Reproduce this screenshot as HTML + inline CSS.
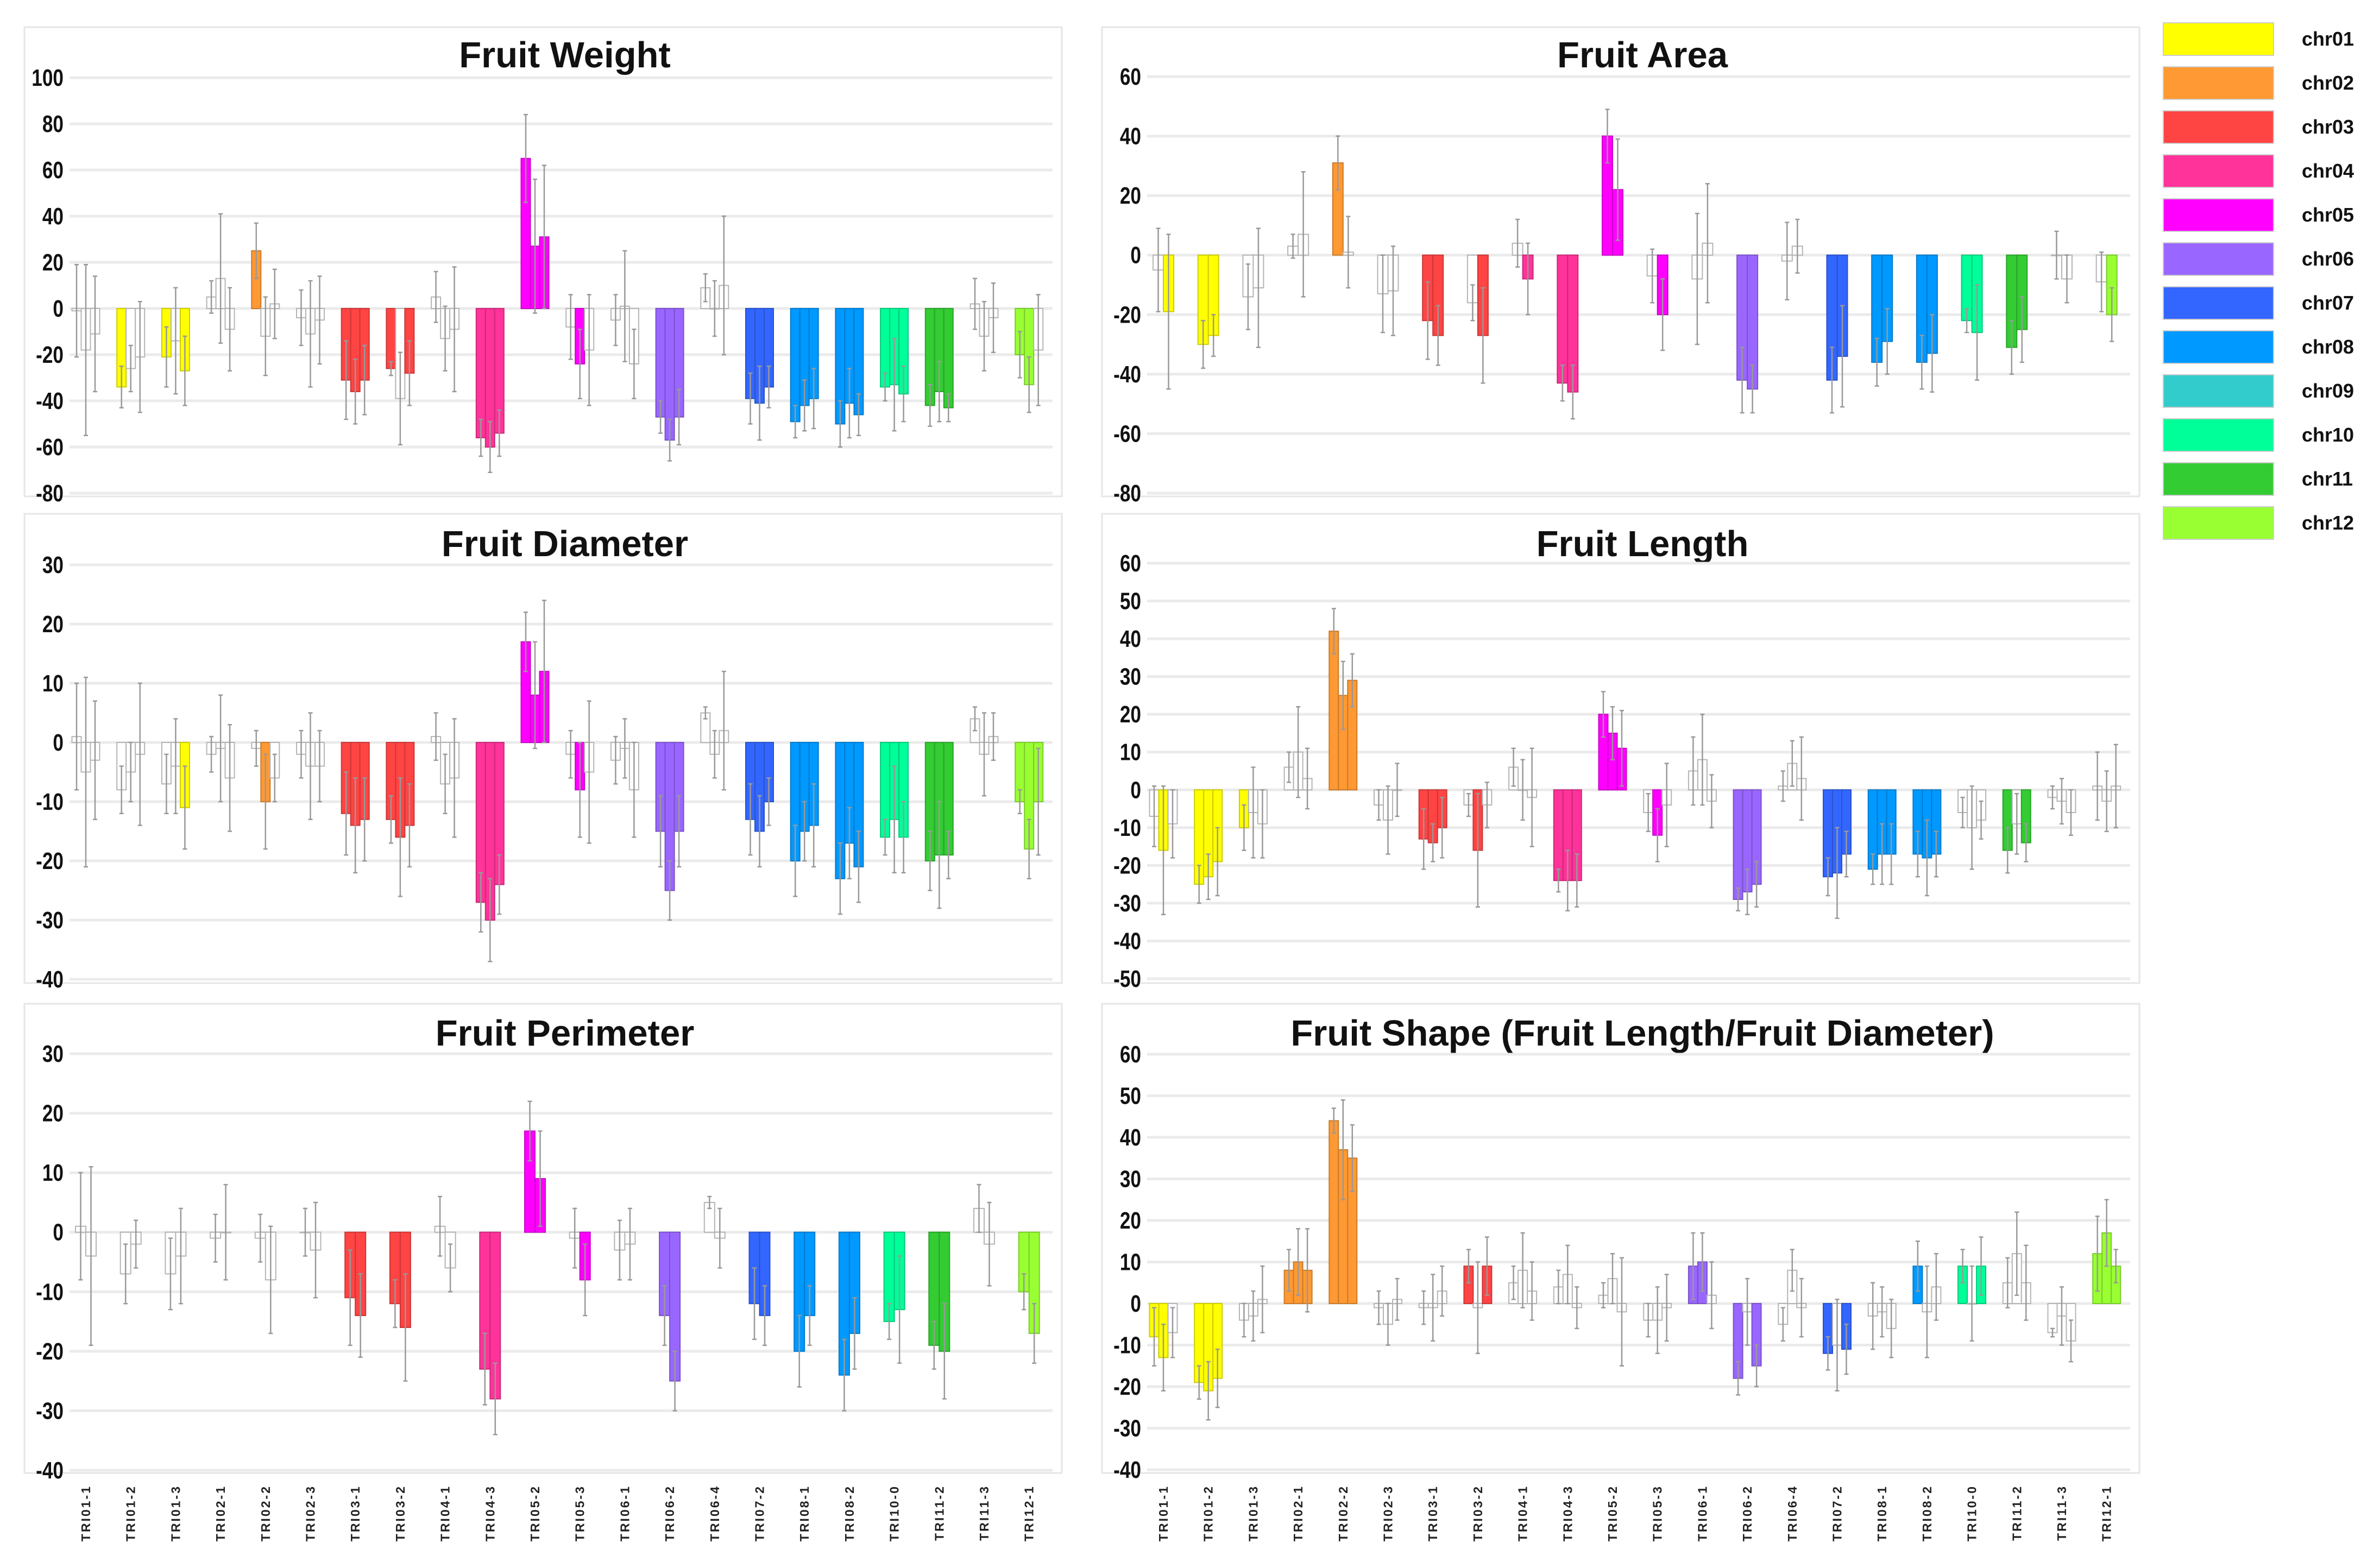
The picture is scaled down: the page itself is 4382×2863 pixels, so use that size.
<!DOCTYPE html>
<html><head><meta charset="utf-8">
<style>
html,body{margin:0;padding:0;background:#fff;}
svg{display:block;}
text{font-family:"Liberation Sans",sans-serif;}
</style></head>
<body>
<svg id="fig" width="4382" height="2863" viewBox="0 0 4382 2863" xmlns="http://www.w3.org/2000/svg">
<rect x="0" y="0" width="4382" height="2863" fill="#fff"/>
<g id="panels"></g>
<g id="legend"></g>
</svg>
<script>
// ---- shared data ----
const groupLabels = ["TRI01-1","TRI01-2","TRI01-3","TRI02-1","TRI02-2","TRI02-3","TRI03-1","TRI03-2","TRI04-1","TRI04-3","TRI05-2","TRI05-3","TRI06-1","TRI06-2","TRI06-4","TRI07-2","TRI08-1","TRI08-2","TRI10-0","TRI11-2","TRI11-3","TRI12-1"];
const groupChr = [1,1,1,2,2,2,3,3,4,4,5,5,6,6,6,7,8,8,10,11,11,12];
const chrNames = ["chr01","chr02","chr03","chr04","chr05","chr06","chr07","chr08","chr09","chr10","chr11","chr12"];
const chrColors = ["#FFFF00","#FF9933","#FF4444","#FF3399","#FF00FF","#9966FF","#3366FF","#0099FF","#33CCCC","#00FF99","#33CC33","#99FF33"];

// Fruit Weight (3 bars / group)
const fwValues = [[-1,-18,-11],[-34,-26,-21],[-21,-14,-27],[5,13,-9],[25,-12,2],[-4,-11,-5],[-31,-36,-31],[-26,-39,-28],[5,-13,-9],[-56,-60,-54],[65,27,31],[-8,-24,-18],[-5,1,-24],[-47,-57,-47],[9,0,10],[-39,-41,-34],[-49,-42,-39],[-50,-41,-46],[-34,-33,-37],[-42,-36,-43],[2,-12,-4],[-20,-33,-18]];
const fwErrors = [[20,37,25],[9,10,24],[13,23,15],[7,28,18],[12,17,15],[12,23,19],[17,14,15],[3,20,14],[11,14,27],[8,11,10],[19,29,31],[14,15,24],[11,24,15],[7,9,12],[6,12,30],[11,16,9],[7,11,13],[10,15,9],[6,20,12],[9,13,6],[11,15,15],[10,12,24]];
const fwSig = ["nnn","ynn","yny","nnn","ynn","nnn","yyy","yny","nnn","yyy","yyy","nyn","nnn","yyy","nnn","yyy","yyy","yyy","yyy","yyy","nnn","yyn"];
const fwTicks = [100,80,60,40,20,0,-20,-40,-60,-80];

// Fruit Area (2 bars / group)
const faValues = [[-5,-19],[-30,-27],[-14,-11],[3,7],[31,1],[-13,-12],[-22,-27],[-16,-27],[4,-8],[-43,-46],[40,22],[-7,-20],[-8,4],[-42,-45],[-2,3],[-42,-34],[-36,-29],[-36,-33],[-22,-26],[-31,-25],[0,-8],[-9,-20]];
const faErrors = [[14,26],[8,7],[11,20],[4,21],[9,12],[13,15],[13,10],[6,16],[8,12],[6,9],[9,17],[9,12],[22,20],[11,8],[13,9],[11,17],[8,11],[9,13],[4,16],[9,11],[8,8],[10,9]];
const faSig = ["ny","yy","nn","nn","yn","nn","yy","ny","ny","yy","yy","ny","nn","yy","nn","yy","yy","yy","yy","yy","nn","ny"];
const faTicks = [60,40,20,0,-20,-40,-60,-80];

// Fruit Diameter (3 bars / group)
const fdValues = [[1,-5,-3],[-8,-5,-2],[-7,-4,-11],[-2,-1,-6],[-1,-10,-6],[-2,-4,-4],[-12,-14,-13],[-13,-16,-14],[1,-7,-6],[-27,-30,-24],[17,8,12],[-2,-8,-5],[-3,-1,-8],[-15,-25,-15],[5,-2,2],[-13,-15,-10],[-20,-15,-14],[-23,-17,-21],[-16,-13,-16],[-20,-19,-19],[4,-2,1],[-10,-18,-10]];
const fdErrors = [[9,16,10],[4,5,12],[5,8,7],[3,9,9],[3,8,4],[4,9,6],[7,8,7],[4,10,7],[4,5,10],[5,7,5],[5,9,12],[4,8,12],[4,5,8],[6,5,6],[1,4,10],[6,6,4],[6,5,7],[6,6,6],[3,9,6],[5,9,4],[2,7,4],[2,5,9]];
const fdSig = ["nnn","nnn","nny","nnn","nyn","nnn","yyy","yyy","nnn","yyy","yyy","nyn","nnn","yyy","nnn","yyy","yyy","yyy","yyy","yyy","nnn","yyy"];
const fdTicks = [30,20,10,0,-10,-20,-30,-40];

// Fruit Length (3 bars / group)
const flValues = [[-7,-16,-9],[-25,-23,-19],[-10,-6,-9],[6,10,3],[42,25,29],[-4,-8,0],[-13,-14,-10],[-4,-16,-4],[6,0,-2],[-24,-24,-24],[20,15,11],[-6,-12,-4],[5,8,-3],[-29,-27,-25],[1,7,3],[-23,-22,-17],[-21,-17,-17],[-17,-18,-17],[-6,-10,-8],[-16,-9,-14],[-2,-3,-6],[1,-3,1]];
const flErrors = [[8,17,9],[5,6,9],[6,12,9],[4,12,8],[6,9,7],[4,9,7],[8,5,8],[3,15,6],[5,8,13],[3,8,7],[6,7,10],[5,7,11],[9,12,7],[3,6,6],[4,6,11],[5,12,6],[4,8,8],[6,10,6],[4,11,5],[6,8,5],[3,6,6],[9,8,11]];
const flSig = ["nyn","yyy","ynn","nnn","yyy","nnn","yyy","nyn","nnn","yyy","yyy","nyn","nnn","yyy","nnn","yyy","yyy","yyy","nnn","yny","nnn","nnn"];
const flTicks = [60,50,40,30,20,10,0,-10,-20,-30,-40,-50];

// Fruit Perimeter (2 bars / group)
const fpValues = [[1,-4],[-7,-2],[-7,-4],[-1,0],[-1,-8],[0,-3],[-11,-14],[-12,-16],[1,-6],[-23,-28],[17,9],[-1,-8],[-3,-2],[-14,-25],[5,-1],[-12,-14],[-20,-14],[-24,-17],[-15,-13],[-19,-20],[4,-2],[-10,-17]];
const fpErrors = [[9,15],[5,4],[6,8],[4,8],[4,9],[4,8],[8,7],[4,9],[5,4],[6,6],[5,8],[5,6],[5,6],[5,5],[1,5],[6,5],[6,5],[6,6],[3,9],[4,8],[4,7],[3,5]];
const fpSig = ["nn","nn","nn","nn","nn","nn","yy","yy","nn","yy","yy","ny","nn","yy","nn","yy","yy","yy","yy","yy","nn","yy"];
const fpTicks = [30,20,10,0,-10,-20,-30,-40];

// Fruit Shape (3 bars / group)
const fsValues = [[-8,-13,-7],[-19,-21,-18],[-4,-3,1],[8,10,8],[44,37,35],[-1,-5,1],[-1,-1,3],[9,-1,9],[5,8,3],[4,7,-1],[2,6,-2],[-4,-4,-1],[9,10,2],[-18,-2,-15],[-5,8,-1],[-12,-10,-11],[-3,-2,-6],[9,-2,4],[9,0,9],[5,12,5],[-7,-3,-9],[12,17,9]];
const fsErrors = [[7,8,6],[4,7,7],[4,6,8],[5,8,10],[3,12,8],[4,5,5],[4,8,6],[4,11,7],[4,9,7],[4,7,5],[3,6,13],[4,8,8],[8,7,8],[4,8,5],[4,5,7],[4,11,6],[8,6,7],[6,11,8],[4,9,7],[6,10,9],[1,7,5],[9,8,4]];
const fsSig = ["yyn","yyy","nnn","yyy","yyy","nnn","nnn","yny","nnn","nnn","nnn","nnn","yyn","yny","nnn","yny","nnn","ynn","yny","nnn","nnn","yyy"];
const fsTicks = [60,50,40,30,20,10,0,-10,-20,-30,-40];

const NS = "http://www.w3.org/2000/svg";
function mk(tag, attrs, parent){
  const e = document.createElementNS(NS, tag);
  for (const k in attrs) e.setAttribute(k, attrs[k]);
  if (parent) parent.appendChild(e);
  return e;
}
function darken(hex){
  const n = parseInt(hex.slice(1),16);
  const r=Math.round(((n>>16)&255)*0.8), g=Math.round(((n>>8)&255)*0.8), b=Math.round((n&255)*0.8);
  return "rgb("+r+","+g+","+b+")";
}

const panelsG = document.getElementById("panels");

function drawPanel(cfg){
  const g = mk("g", {}, panelsG);
  
  
  const frame = mk("rect", {x:cfg.px, y:cfg.py, width:1910, height:cfg.ph, fill:"#fff", stroke:"#e6e6e6", "stroke-width":3}, g);
  
  
  const title = mk("text", {x:cfg.px+995, y:cfg.titleY, "text-anchor":"middle", "font-size":67, "font-weight":"bold", fill:"#111"}, g);
  title.textContent = cfg.title;
  
  
  const tmax = cfg.ticks[0], tmin = cfg.ticks[cfg.ticks.length-1];
  const yScale = v => cfg.yTop + (tmax - v) * (cfg.yBot - cfg.yTop) / (tmax - tmin);
  const xGroup = i => cfg.px + 113 + i * 82.7;
  cfg.ticks.forEach(t => {
    const y = yScale(t);
    const gl = mk("line", {x1:cfg.px+83, x2:cfg.px+1893, y1:y, y2:y, stroke:"#ebebeb", "stroke-width":5}, g);
    
    
    const ax = cfg.px+72;
    const tl = mk("text", {x:ax, y:y+15, "text-anchor":"end", "font-size":44, "font-weight":"bold", fill:"#111", transform:"translate("+ax+",0) scale(0.8,1) translate("+(-ax)+",0)"}, g);
    tl.textContent = String(t);
    
    
  });
  const n = cfg.values[0].length;
  const bw = n === 3 ? 17 : 19;
  const y0 = yScale(0);
  cfg.values.forEach((grp, i) => {
    const cx = xGroup(i);
    const col = chrColors[groupChr[i]-1];
    grp.forEach((v, j) => {
      const x = cx - n*bw/2 + j*bw;
      const sig = cfg.sig[i][j] === "y";
      const yv = yScale(v);
      const bar = mk("rect", {x:x, y:Math.min(yv,y0), width:bw, height:Math.max(Math.abs(yv-y0),1),
        fill: sig ? col : "#fff", stroke: sig ? darken(col) : "#b5b5b5", "stroke-width":2}, g);
      
      
      const e = cfg.errors[i][j];
      const xm = x + bw/2;
      const eb = mk("line", {x1:xm, x2:xm, y1:yScale(v+e), y2:yScale(v-e), stroke:"#999", "stroke-width":2.5}, g);
      
      
      [v+e, v-e].forEach(ev => {
        const cap = mk("line", {x1:xm-4, x2:xm+4, y1:yScale(ev), y2:yScale(ev), stroke:"#999", "stroke-width":2.5}, g);
        
        
      });
    });
  });
  if (cfg.labels) {
    groupLabels.forEach((lab, i) => {
      const cx = xGroup(i) + 8;
      const t = mk("text", {x:cx, y:2734, "text-anchor":"end", "font-size":23, "font-weight":"bold", "letter-spacing":3, fill:"#222", transform:"rotate(-90 "+cx+" 2734)"}, g);
      t.textContent = lab;
      
      
    });
  }
}

drawPanel({name:"fruit-weight-chart", title:"Fruit Weight", px:45, py:50, ph:864, titleY:124, yTop:143, yBot:908, ticks:fwTicks, values:fwValues, errors:fwErrors, sig:fwSig});
drawPanel({name:"fruit-area-chart", title:"Fruit Area", px:2029, py:50, ph:864, titleY:124, yTop:141, yBot:908, ticks:faTicks, values:faValues, errors:faErrors, sig:faSig});
drawPanel({name:"fruit-diameter-chart", title:"Fruit Diameter", px:45, py:946, ph:864, titleY:1024, yTop:1040, yBot:1803, ticks:fdTicks, values:fdValues, errors:fdErrors, sig:fdSig});
drawPanel({name:"fruit-length-chart", title:"Fruit Length", px:2029, py:946, ph:864, titleY:1024, yTop:1037, yBot:1802, ticks:flTicks, values:flValues, errors:flErrors, sig:flSig});
drawPanel({name:"fruit-perimeter-chart", title:"Fruit Perimeter", px:45, py:1848, ph:864, titleY:1925, yTop:1940, yBot:2707, ticks:fpTicks, values:fpValues, errors:fpErrors, sig:fpSig, labels:true});
drawPanel({name:"fruit-shape-chart", title:"Fruit Shape (Fruit Length/Fruit Diameter)", px:2029, py:1848, ph:864, titleY:1925, yTop:1941, yBot:2706, ticks:fsTicks, values:fsValues, errors:fsErrors, sig:fsSig, labels:true});

// legend
const lg = document.getElementById("legend");
chrNames.forEach((nm, i) => {
  const y = 42 + i*81;
  const sw = mk("rect", {x:3983, y:y, width:203, height:60, fill:chrColors[i], stroke:"#ccc", "stroke-width":2}, lg);
  
  
  const t = mk("text", {x:4238, y:y+42, "font-size":36, "font-weight":"bold", fill:"#111"}, lg);
  t.textContent = nm;
  
  
});
</script>
</body></html>
